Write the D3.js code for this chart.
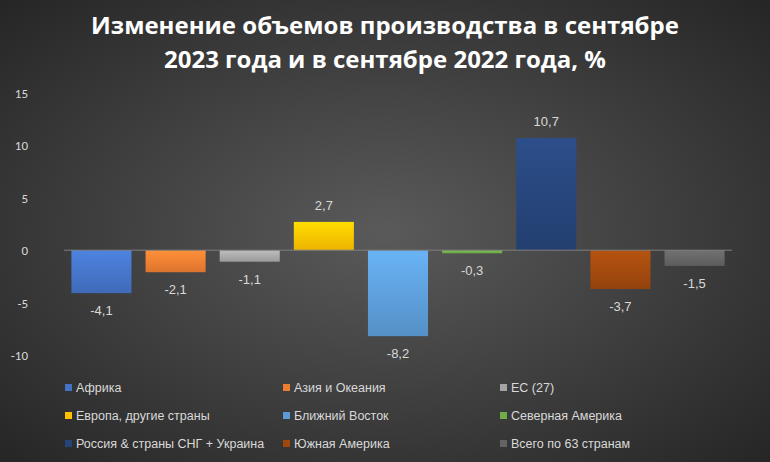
<!DOCTYPE html>
<html><head><meta charset="utf-8">
<script src="https://cdn.jsdelivr.net/npm/d3@7"></script>
<style>body{margin:0;background:#333}svg{display:block}</style></head>
<body><svg id="c" width="770" height="462"></svg>
<script>
const categories=["Африка","Азия и Океания","ЕС (27)","Европа, другие страны","Ближний Восток","Северная Америка","Россия & страны СНГ + Украина","Южная Америка","Всего по 63 странам"];
const values=[-4.1,-2.1,-1.1,2.7,-8.2,-0.3,10.7,-3.7,-1.5];
const colors=["#4472c4","#ed7d31","#a5a5a5","#ffc000","#5b9bd5","#70ad47","#264478","#9e480e","#636363"];
const yTicks=[-10,-5,0,5,10,15];
const title=["Изменение объемов производства в сентябре","2023 года и в сентябре 2022 года, %"];

const svg=d3.select("#c");
const defs=svg.append("defs");
const rg=defs.append("radialGradient").attr("id","bg").attr("cx","50%").attr("cy","50%").attr("r","70%");
rg.append("stop").attr("offset","0%").attr("stop-color","#5a5a5a");
rg.append("stop").attr("offset","100%").attr("stop-color","#262626");
svg.append("rect").attr("width",770).attr("height",462).attr("fill","url(#bg)");

colors.forEach((c,i)=>{
  const g=defs.append("linearGradient").attr("id","g"+i).attr("x1",0).attr("y1",0).attr("x2",0).attr("y2",1);
  g.append("stop").attr("offset","0%").attr("stop-color",d3.color(c).brighter(0.4));
  g.append("stop").attr("offset","100%").attr("stop-color",d3.color(c).darker(0.2));
});

svg.selectAll(".t").data(title).join("text").attr("x",385).attr("y",(d,i)=>34+i*34)
 .attr("text-anchor","middle").attr("fill","#fff").attr("font-family","Open Sans, sans-serif")
 .attr("font-weight","bold").attr("font-size",24).text(d=>d);

const x=d3.scaleBand().domain(categories).range([64,732]).paddingInner(0.19).paddingOuter(0.1);
const y=d3.scaleLinear().domain([-10,15]).range([355,93]);

svg.selectAll(".yl").data(yTicks).join("text").attr("x",28).attr("y",d=>y(d)+5)
 .attr("text-anchor","end").attr("fill","#d9d9d9").attr("font-family","Calibri, Carlito, Liberation Sans, sans-serif")
 .attr("font-size",13).text(d=>d);

svg.selectAll(".b").data(values).join("rect")
 .attr("x",(d,i)=>x(categories[i])).attr("width",x.bandwidth())
 .attr("y",d=>y(Math.max(0,d))).attr("height",d=>Math.abs(y(d)-y(0)))
 .attr("fill",(d,i)=>"url(#g"+i+")");

svg.append("line").attr("x1",64).attr("x2",732).attr("y1",y(0)).attr("y2",y(0)).attr("stroke","#7f7f7f");

svg.selectAll(".v").data(values).join("text")
 .attr("x",(d,i)=>x(categories[i])+x.bandwidth()/2)
 .attr("y",d=>d>=0?y(d)-12:y(d)+22)
 .attr("text-anchor","middle").attr("fill","#d9d9d9").attr("font-family","Liberation Sans, sans-serif")
 .attr("font-size",13).text(d=>String(d).replace(".",","));

const lg=svg.selectAll(".lg").data(categories).join("g")
 .attr("transform",(d,i)=>`translate(${[65,283,500][i%3]},${392+Math.floor(i/3)*28})`);
lg.append("rect").attr("x",0).attr("y",-8).attr("width",7).attr("height",7).attr("fill",(d,i)=>colors[i]);
lg.append("text").attr("x",11).attr("y",0).attr("fill","#d9d9d9").attr("font-family","Liberation Sans, sans-serif")
 .attr("font-size",12.5).text(d=>d);
</script></body></html>
